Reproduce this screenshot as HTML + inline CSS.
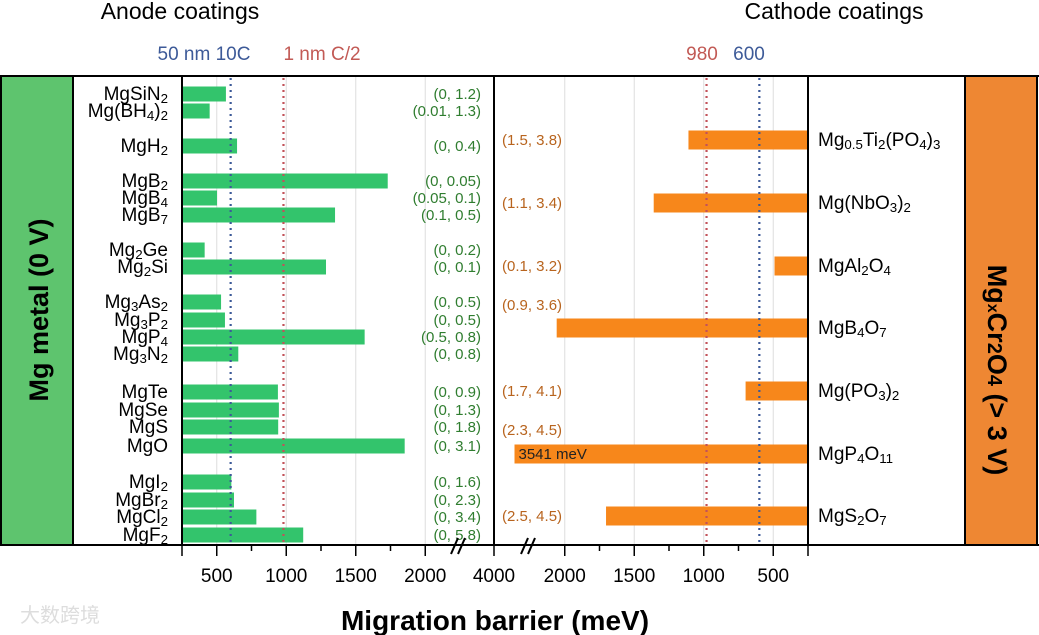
<!DOCTYPE html>
<html><head><meta charset="utf-8"><style>
body{margin:0;background:#fff;}
svg{display:block;font-family:"Liberation Sans",Arial,sans-serif;}
</style></head><body>
<svg id="c" width="1039" height="635" viewBox="0 0 1039 635" xmlns="http://www.w3.org/2000/svg">
<rect x="0" y="0" width="1039" height="635" fill="#fff"/>
<rect x="1" y="76" width="72" height="469" fill="#5ec46e"/>
<rect x="965" y="76" width="73" height="469" fill="#ee8733"/>
<text transform="translate(48,310) rotate(-90)" text-anchor="middle" font-size="27" font-weight="bold">Mg metal (0 V)</text>
<text transform="translate(988,370) rotate(90)" text-anchor="middle" font-size="27" font-weight="bold">Mg<tspan font-size="16">x</tspan>Cr<tspan font-size="20">2</tspan>O<tspan font-size="20">4</tspan> (&gt; 3 V)</text>
<text x="180" y="19" text-anchor="middle" font-size="23">Anode coatings</text>
<text x="834" y="19" text-anchor="middle" font-size="23">Cathode coatings</text>
<text x="204" y="60" text-anchor="middle" font-size="19" fill="#3d5a98">50 nm 10C</text>
<text x="322" y="60" text-anchor="middle" font-size="19" fill="#c25a55">1 nm C/2</text>
<text x="702" y="60" text-anchor="middle" font-size="19" fill="#c25a55">980</text>
<text x="749" y="60" text-anchor="middle" font-size="19" fill="#3d5a98">600</text>
<g id="grid"></g>
<g id="marks"></g>
<g id="frame" stroke="#000" stroke-width="2" fill="none">
<line x1="0" y1="76" x2="1039" y2="76"/>
<line x1="0" y1="545" x2="1039" y2="545"/>
<line x1="1" y1="76" x2="1" y2="545"/>
<line x1="73" y1="76" x2="73" y2="545"/>
<line x1="182" y1="76" x2="182" y2="545"/>
<line x1="494" y1="76" x2="494" y2="545"/>
<line x1="808" y1="76" x2="808" y2="545"/>
<line x1="965" y1="76" x2="965" y2="545"/>
<line x1="1037" y1="76" x2="1037" y2="545"/>
</g>
<g id="axis"></g>
<text x="495" y="630" text-anchor="middle" font-size="28" font-weight="bold">Migration barrier (meV)</text>
<text x="20" y="622" font-size="20" fill="#ddd">大数跨境</text>
</svg>
<script>
const anodeNames=["MgSiN|2","Mg(BH|4|)|2","MgH|2","MgB|2","MgB|4","MgB|7","Mg|2|Ge","Mg|2|Si","Mg|3|As|2","Mg|3|P|2","MgP|4","Mg|3|N|2","MgTe","MgSe","MgS","MgO","MgI|2","MgBr|2","MgCl|2","MgF|2"];
const anodeY=[94,111,146,181,198,215,250,267,302,320,337,354,392,410,427,446,482,500,517,535];
const anodeValues=[566,449,646,1730,502,1351,413,1286,531,559,1564,655,940,947,942,1852,605,624,785,1122];
const anodeWindows=["(0, 1.2)","(0.01, 1.3)","(0, 0.4)","(0, 0.05)","(0.05, 0.1)","(0.1, 0.5)","(0, 0.2)","(0, 0.1)","(0, 0.5)","(0, 0.5)","(0.5, 0.8)","(0, 0.8)","(0, 0.9)","(0, 1.3)","(0, 1.8)","(0, 3.1)","(0, 1.6)","(0, 2.3)","(0, 3.4)","(0, 5.8)"];
const cathodeNames=["Mg|0.5|Ti|2|(PO|4|)|3","Mg(NbO|3|)|2","MgAl|2|O|4","MgB|4|O|7","Mg(PO|3|)|2","MgP|4|O|11","MgS|2|O|7"];
const cathodeY=[140,203,266,328,391,454,516];
const cathodeValues=[1110,1360,491,2058,699,3541,1703];
const cathodeWindows=["(1.5, 3.8)","(1.1, 3.4)","(0.1, 3.2)","(0.9, 3.6)","(1.7, 4.1)","(2.3, 4.5)","(2.5, 4.5)"];
const cathodeWinY=[140,203,266,305,391,430,516];
const leftTicks=[500,1000,1500,2000];
const rightTicks=[2000,1500,1000,500];
const refLines=[600,980];

const NS="http://www.w3.org/2000/svg";
const K=0.139;
function xL(v){ if(v>2250) return 460+(v-2250)*0.02; return 182+(v-250)*K; }
function xR(v){ if(v>2250) return 530-(v-2250)*0.012; return 808-(v-250)*K; }
function mk(tag,attrs,parent){const e=document.createElementNS(NS,tag);for(const k in attrs)e.setAttribute(k,attrs[k]);parent.appendChild(e);return e;}
const grid=document.getElementById('grid'),marks=document.getElementById('marks'),axis=document.getElementById('axis');
function formula(parent,str,x,y,anchor,size,name){
  const t=mk('text',{x:x,y:y,'text-anchor':anchor,'font-size':size},parent);
  
  
  const parts=str.split('|');
  parts.forEach((p,i)=>{const s=mk('tspan',{},t);s.textContent=p;
    if(i%2===1){s.setAttribute('font-size',size*0.7);s.setAttribute('dy',3);}
    else if(i>0){s.setAttribute('dy',-3);}});
  return t;
}
leftTicks.forEach(v=>{const l=mk('line',{x1:xL(v),x2:xL(v),y1:77,y2:544,stroke:'#ddd','stroke-width':1},grid);
  });
rightTicks.forEach(v=>{const l=mk('line',{x1:xR(v),x2:xR(v),y1:77,y2:544,stroke:'#ddd','stroke-width':1},grid);
  });
anodeValues.forEach((v,i)=>{
  const r=mk('rect',{x:182,y:anodeY[i]-7.5,width:xL(v)-182,height:15,fill:'#33c46c'},marks);
  
  formula(marks,anodeNames[i],168,anodeY[i]+6,'end',19,'anode-label');
  const w=mk('text',{x:481,y:anodeY[i]+5,'text-anchor':'end','font-size':15,fill:'#2f7d2f'},marks);
  w.textContent=anodeWindows[i];
  
});
cathodeValues.forEach((v,i)=>{
  const x=xR(v);
  const r=mk('rect',{x:x,y:cathodeY[i]-9.5,width:808-x,height:19,fill:'#f7871b'},marks);
  
  formula(marks,cathodeNames[i],818,cathodeY[i]+6,'start',19,'cathode-label');
  const w=mk('text',{x:502,y:cathodeWinY[i]+5,'font-size':15,fill:'#b8641e'},marks);
  w.textContent=cathodeWindows[i];
  
  if(v>2250){const t=mk('text',{x:x+4,y:cathodeY[i]+5,'font-size':15,fill:'#222'},marks);
    t.textContent=v+' meV';}
});
refLines.forEach((v,i)=>{
  const c=i===0?'#3d5a98':'#c2525a';
  [xL(v),xR(v)].forEach(x=>{const l=mk('line',{x1:x,x2:x,y1:78,y2:544,stroke:c,'stroke-width':2.2,'stroke-dasharray':'2 4'},marks);
    });
});
[750,1250,1750].forEach(v=>mk('line',{x1:xL(v),x2:xL(v),y1:545,y2:551,stroke:'#000','stroke-width':1.5},axis));
[1750,1250,750].forEach(v=>mk('line',{x1:xR(v),x2:xR(v),y1:545,y2:551,stroke:'#000','stroke-width':1.5},axis));
[182,494,808].forEach(x=>mk('line',{x1:x,x2:x,y1:545,y2:556,stroke:'#000','stroke-width':1.5},axis));
leftTicks.forEach(v=>{mk('line',{x1:xL(v),x2:xL(v),y1:545,y2:556,stroke:'#000','stroke-width':1.5},axis);
  const t=mk('text',{x:xL(v),y:582,'text-anchor':'middle','font-size':19},axis);t.textContent=v;
  });
rightTicks.forEach(v=>{mk('line',{x1:xR(v),x2:xR(v),y1:545,y2:556,stroke:'#000','stroke-width':1.5},axis);
  const t=mk('text',{x:xR(v),y:582,'text-anchor':'middle','font-size':19},axis);t.textContent=v;
  });
const t4=mk('text',{x:494,y:582,'text-anchor':'middle','font-size':19},axis);t4.textContent='4000';

[[451,458],[458,465],[521,528],[528,535]].forEach(p=>mk('line',{x1:p[0],y1:554,x2:p[1],y2:538,stroke:'#000','stroke-width':2},axis));
</script>
</body></html>
